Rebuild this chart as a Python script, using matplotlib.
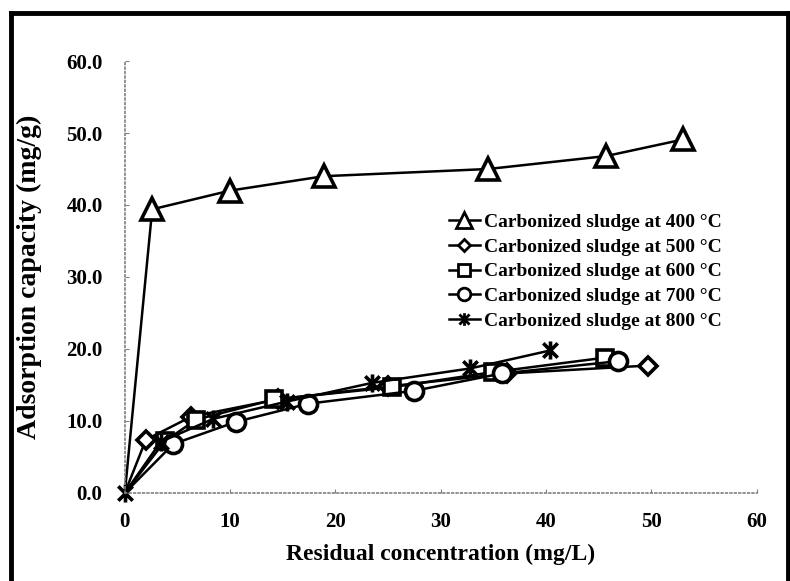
import matplotlib.pyplot as plt
from matplotlib.path import Path
from matplotlib.lines import Line2D

plt.rcParams['font.family'] = 'Liberation Serif'
plt.rcParams['font.weight'] = 'bold'

# adsorption isotherms for sludge carbonized at different temperatures
x_400 = [0, 2.6, 10.0, 18.9, 34.5, 45.7, 53.0]
y_400 = [0, 39.4, 42.0, 44.0, 45.0, 46.8, 49.1]
x_500 = [0, 2.0, 6.3, 14.5, 25.0, 36.3, 49.7]
y_500 = [0, 7.4, 10.6, 13.0, 14.8, 16.6, 17.7]
x_600 = [0, 3.8, 6.8, 14.2, 25.4, 35.0, 45.6]
y_600 = [0, 7.2, 10.2, 13.0, 14.7, 16.8, 18.8]
x_700 = [0, 4.6, 10.6, 17.4, 27.5, 35.8, 46.8]
y_700 = [0, 6.8, 9.9, 12.4, 14.2, 16.6, 18.3]
x_800 = [0, 3.4, 8.4, 15.4, 23.5, 32.8, 40.4]
y_800 = [0, 7.1, 10.3, 12.7, 15.3, 17.3, 19.8]

labels = ['Carbonized sludge at 400 \u00b0C', 'Carbonized sludge at 500 \u00b0C',
          'Carbonized sludge at 600 \u00b0C', 'Carbonized sludge at 700 \u00b0C',
          'Carbonized sludge at 800 \u00b0C']

# asterisk: vertical bar plus an x
star = Path([(0, -1), (0, 1), (-0.8, -0.8), (0.8, 0.8), (-0.8, 0.8), (0.8, -0.8)],
            [Path.MOVETO, Path.LINETO] * 3)

fig = plt.figure(figsize=(7.9, 5.81), dpi=100)
ax = fig.add_axes([0.158, 0.1515, 0.8, 0.7435])

series = [
    (x_400, y_400, '^', 16),
    (x_500, y_500, 'D', 9),
    (x_600, y_600, 's', 12),
    (x_700, y_700, 'o', 13),
    (x_800, y_800, star, 13),
]
for i, ((xs, ys, m, ms), lab) in enumerate(zip(series, labels)):
    # the origin is shared by all curves; only the last marker shows there
    every = None if i == len(series) - 1 else slice(1, None)
    ax.plot(xs, ys, color='black', lw=1.8, marker=m, markersize=ms,
            markerfacecolor='white', markeredgecolor='black',
            markeredgewidth=2.6, markevery=every, label=lab, clip_on=False)

ax.set_xlim(0, 60)
ax.set_ylim(0, 60)
ax.set_xticks(range(0, 61, 10))
ax.set_yticks(range(0, 61, 10))
ax.set_yticklabels(['%.1f' % v for v in range(0, 61, 10)])
ax.tick_params(direction='in', length=3, width=0.8, color='gray', labelsize=15)
ax.tick_params(axis='y', pad=16)
ax.tick_params(axis='x', pad=14)
for s in ['top', 'right']:
    ax.spines[s].set_visible(False)
for s in ['left', 'bottom']:
    ax.spines[s].set_color('gray')
    ax.spines[s].set_linestyle(':')
    ax.spines[s].set_linewidth(1.2)

ax.set_xlabel('Residual concentration (mg/L)', fontsize=17, fontweight='bold',
              labelpad=8)
ax.set_ylabel('Adsorption capacity (mg/g)', fontsize=20, fontweight='bold')
ax.yaxis.set_label_coords(-0.131, 0.5)

handles = [Line2D([], [], color='black', lw=1.8, marker=m, markersize=ms * 0.7,
                  markerfacecolor='white', markeredgecolor='black',
                  markeredgewidth=2.0) for (_, _, m, ms) in series]
ax.legend(handles, labels, loc='upper left', bbox_to_anchor=(0.5, 0.665),
          frameon=False, fontsize=14, handlelength=1.6, handletextpad=0.2,
          labelspacing=0.36, borderaxespad=0)

# outer frame
fig.add_artist(plt.Line2D([0.014, 0.014], [0.0, 0.978], color='black', lw=3.5))
fig.add_artist(plt.Line2D([0.014, 1.0], [0.978, 0.978], color='black', lw=3.5))
fig.add_artist(plt.Line2D([0.997, 0.997], [0.0, 0.978], color='black', lw=3.5))

fig.savefig('out.png', dpi=100)
